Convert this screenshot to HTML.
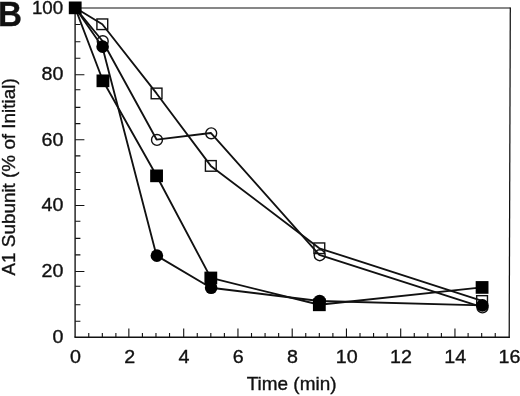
<!DOCTYPE html>
<html><head><meta charset="utf-8"><title>B</title>
<style>html,body{margin:0;padding:0;background:#fff}svg text{white-space:pre;font-family:"Liberation Sans",Arial,Helvetica,sans-serif}</style></head>
<body>
<svg width="520" height="396" viewBox="0 0 520 396" style="display:block">
<rect width="520" height="396" fill="#fff"/>
<path d="M74.55 7.90H510.40" stroke="#111" stroke-width="1.05" fill="none"/>
<path d="M510.30 7.50L509.20 337.90" stroke="#111" stroke-width="1.25" fill="none"/>
<path d="M75.10 7.8V337.2" stroke="#111" stroke-width="1.35" fill="none"/>
<path d="M74.45 337.2H509.80" stroke="#111" stroke-width="1.4" fill="none"/>
<path d="M88.76 337.2v-4.2M102.33 337.2v-4.2M115.89 337.2v-4.2M128.85 337.2v-8.6M142.41 337.2v-4.2M155.97 337.2v-4.2M169.54 337.2v-4.2M183.70 337.2v-8.6M197.26 337.2v-4.2M210.82 337.2v-4.2M224.39 337.2v-4.2M237.95 337.2v-8.6M251.51 337.2v-4.2M265.07 337.2v-4.2M278.64 337.2v-4.2M292.20 337.2v-8.6M305.76 337.2v-4.2M319.32 337.2v-4.2M332.89 337.2v-4.2M346.45 337.2v-8.6M360.01 337.2v-4.2M373.57 337.2v-4.2M387.14 337.2v-4.2M400.70 337.2v-8.6M414.26 337.2v-4.2M427.82 337.2v-4.2M441.39 337.2v-4.2M454.95 337.2v-8.6M468.11 337.2v-4.2M481.68 337.2v-4.2M495.24 337.2v-4.2M75.2 321.23h5.2M75.2 304.76h5.2M75.2 286.29h5.2M75.2 271.52h9.2M75.2 254.85h5.2M75.2 238.38h5.2M75.2 221.21h5.2M75.2 205.44h9.2M75.2 189.47h5.2M75.2 172.50h5.2M75.2 155.83h5.2M75.2 139.76h9.2M75.2 123.59h5.2M75.2 107.42h5.2M75.2 89.75h5.2M75.2 74.68h9.2M75.2 58.21h5.2M75.2 41.74h5.2M75.2 24.47h5.2" stroke="#111" stroke-width="1.1" fill="none"/>
<polyline points="75.20,7.80 102.33,24.27 156.57,93.44 210.82,165.91 319.32,248.26 482.07,300.97" fill="none" stroke="#111" stroke-width="1.85" stroke-linejoin="round"/>
<polyline points="75.20,7.80 102.33,40.74 156.57,139.56 210.82,132.97 319.32,254.85 482.07,307.06" fill="none" stroke="#111" stroke-width="1.85" stroke-linejoin="round"/>
<polyline points="75.20,7.80 102.93,80.77 156.57,175.79 210.82,277.91 319.32,304.76 482.07,287.39" fill="none" stroke="#111" stroke-width="1.85" stroke-linejoin="round"/>
<polyline points="75.20,7.80 102.33,46.67 156.57,255.67 210.82,287.79 319.32,300.97 482.07,305.41" fill="none" stroke="#111" stroke-width="1.85" stroke-linejoin="round"/>
<rect x="96.92" y="18.97" width="10.8" height="10.6" fill="none" stroke="#111" stroke-width="1.4"/>
<rect x="151.17" y="88.14" width="10.8" height="10.6" fill="none" stroke="#111" stroke-width="1.4"/>
<rect x="205.42" y="160.61" width="10.8" height="10.6" fill="none" stroke="#111" stroke-width="1.4"/>
<rect x="313.93" y="242.96" width="10.8" height="10.6" fill="none" stroke="#111" stroke-width="1.4"/>
<rect x="476.68" y="295.67" width="10.8" height="10.6" fill="none" stroke="#111" stroke-width="1.4"/>
<circle cx="102.73" cy="41.14" r="5.45" fill="none" stroke="#111" stroke-width="1.4"/>
<circle cx="156.97" cy="139.96" r="5.45" fill="none" stroke="#111" stroke-width="1.4"/>
<circle cx="211.22" cy="133.37" r="5.45" fill="none" stroke="#111" stroke-width="1.4"/>
<circle cx="319.72" cy="255.25" r="5.45" fill="none" stroke="#111" stroke-width="1.4"/>
<circle cx="482.47" cy="307.46" r="5.45" fill="none" stroke="#111" stroke-width="1.4"/>
<rect x="68.80" y="1.50" width="12.8" height="12.7" fill="#000"/>
<rect x="96.53" y="74.47" width="12.8" height="12.7" fill="#000"/>
<rect x="150.17" y="169.49" width="12.8" height="12.7" fill="#000"/>
<rect x="204.42" y="271.61" width="12.8" height="12.7" fill="#000"/>
<rect x="312.93" y="298.46" width="12.8" height="12.7" fill="#000"/>
<rect x="475.68" y="281.09" width="12.8" height="12.7" fill="#000"/>
<circle cx="102.62" cy="46.67" r="6.3" fill="#000"/>
<circle cx="156.88" cy="255.67" r="6.3" fill="#000"/>
<circle cx="211.12" cy="287.79" r="6.3" fill="#000"/>
<circle cx="319.62" cy="300.97" r="6.3" fill="#000"/>
<circle cx="482.38" cy="305.41" r="6.3" fill="#000"/>
<text transform="translate(63.40 342.60) scale(1.07 1)" text-anchor="end" font-size="18.4" fill="#111" stroke="#111" stroke-width="0.35"  >0</text>
<text transform="translate(63.40 276.72) scale(1.07 1)" text-anchor="end" font-size="18.4" fill="#111" stroke="#111" stroke-width="0.35"  >20</text>
<text transform="translate(63.40 210.84) scale(1.07 1)" text-anchor="end" font-size="18.4" fill="#111" stroke="#111" stroke-width="0.35"  >40</text>
<text transform="translate(63.40 145.86) scale(1.07 1)" text-anchor="end" font-size="18.4" fill="#111" stroke="#111" stroke-width="0.35"  >60</text>
<text transform="translate(63.40 79.98) scale(1.07 1)" text-anchor="end" font-size="18.4" fill="#111" stroke="#111" stroke-width="0.35"  >80</text>
<text transform="translate(63.20 14.40) scale(1.02 1)" text-anchor="end" font-size="18.4" fill="#111" stroke="#111" stroke-width="0.35"  >100</text>
<text transform="translate(75.40 363.20) scale(1.07 1)" text-anchor="middle" font-size="18.4" fill="#111" stroke="#111" stroke-width="0.35"  >0</text>
<text transform="translate(129.65 363.20) scale(1.07 1)" text-anchor="middle" font-size="18.4" fill="#111" stroke="#111" stroke-width="0.35"  >2</text>
<text transform="translate(183.90 363.20) scale(1.07 1)" text-anchor="middle" font-size="18.4" fill="#111" stroke="#111" stroke-width="0.35"  >4</text>
<text transform="translate(238.15 363.20) scale(1.07 1)" text-anchor="middle" font-size="18.4" fill="#111" stroke="#111" stroke-width="0.35"  >6</text>
<text transform="translate(292.40 363.20) scale(1.07 1)" text-anchor="middle" font-size="18.4" fill="#111" stroke="#111" stroke-width="0.35"  >8</text>
<text transform="translate(346.65 363.20) scale(1.07 1)" text-anchor="middle" font-size="18.4" fill="#111" stroke="#111" stroke-width="0.35"  >10</text>
<text transform="translate(400.90 363.20) scale(1.07 1)" text-anchor="middle" font-size="18.4" fill="#111" stroke="#111" stroke-width="0.35"  >12</text>
<text transform="translate(455.15 363.20) scale(1.07 1)" text-anchor="middle" font-size="18.4" fill="#111" stroke="#111" stroke-width="0.35"  >14</text>
<text transform="translate(509.40 363.20) scale(1.07 1)" text-anchor="middle" font-size="18.4" fill="#111" stroke="#111" stroke-width="0.35"  >16</text>
<text transform="translate(291.60 390.40) scale(1.03 1)" text-anchor="middle" font-size="18.4" fill="#111" stroke="#111" stroke-width="0.35"  >Time (min)</text>
<text transform="translate(14.9 275.5) rotate(-90)" font-size="18.8" fill="#111" stroke="#111" stroke-width="0.35" textLength="197.2" lengthAdjust="spacingAndGlyphs" >A1 Subunit (% of Initial)</text>
<text transform="translate(-1.90 25.60) scale(0.955 1)" text-anchor="start" font-size="34.8" fill="#111" stroke="#111" stroke-width="0.35"  font-weight="bold">B</text>
</svg>
</body></html>
